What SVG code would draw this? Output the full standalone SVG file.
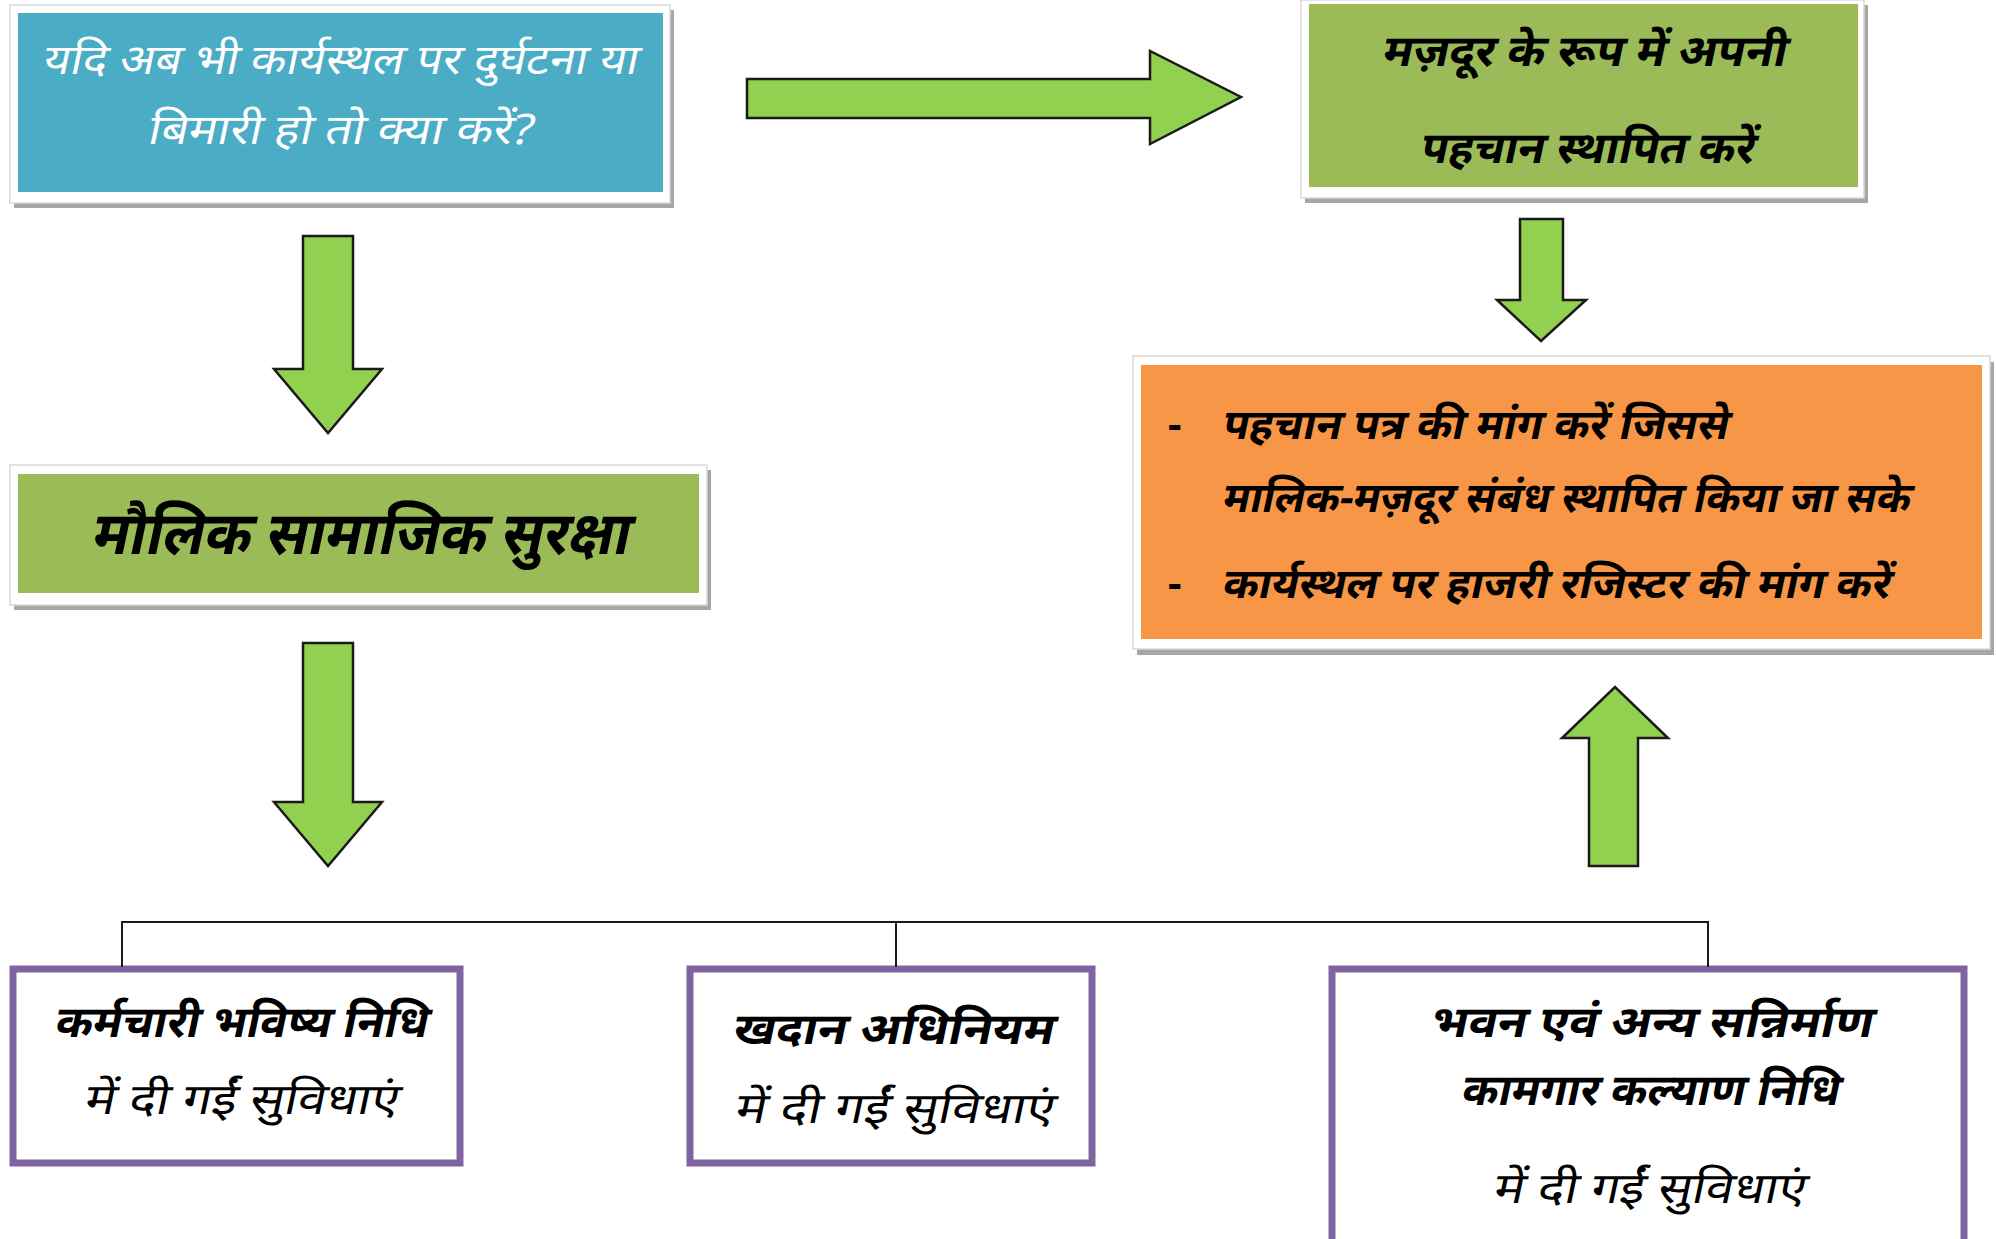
<svg xmlns="http://www.w3.org/2000/svg" width="1996" height="1239" viewBox="0 0 1996 1239">
<style>
.frame{fill:#ffffff;stroke:#d9d9d9;stroke-width:1.5}
.shadow{fill:#a6a6a6}
.arrow{fill:#92d050;stroke:#1a1a1a;stroke-width:2.5;stroke-linejoin:miter}
.conn{fill:none;stroke:#1a1a1a;stroke-width:2}
.pbox{fill:#ffffff;stroke:#8064a2;stroke-width:7}
text{font-family:"Noto Sans","Lato",sans-serif;text-anchor:middle}
.w{fill:#ffffff;font-size:42px}
.k{fill:#000000;font-size:44px;font-weight:bold}
.kl{fill:#000000;font-size:43px}
.o{fill:#000000;font-size:42px;font-weight:bold;text-anchor:start}
</style>
<rect width="1996" height="1239" fill="#ffffff"/>

<g id="node-question">
<rect class="shadow" x="14" y="10" width="660" height="198"/>
<rect class="frame" x="10" y="5" width="660" height="198"/>
<rect x="18" y="13" width="645" height="179" fill="#4bacc6"/>
<text class="w" transform="translate(339 74) skewX(-12)" textLength="595" lengthAdjust="spacingAndGlyphs">यदि अब भी कार्यस्थल पर दुर्घटना या</text>
<text class="w" transform="translate(339 144) skewX(-12)" textLength="385" lengthAdjust="spacingAndGlyphs">बिमारी हो तो क्या करें?</text>
</g>

<g id="node-identity">
<rect class="shadow" x="1305" y="5" width="563" height="198"/>
<rect class="frame" x="1301" y="0" width="563" height="198"/>
<rect x="1309" y="4" width="549" height="183" fill="#9bbb59"/>
<text class="k" transform="translate(1583 66) skewX(-12)" textLength="404" lengthAdjust="spacingAndGlyphs">मज़दूर के रूप में अपनी</text>
<text class="k" transform="translate(1586 163) skewX(-12)" textLength="334" lengthAdjust="spacingAndGlyphs">पहचान स्थापित करें</text>
</g>

<g id="node-demands">
<rect class="shadow" x="1137" y="362" width="857" height="293"/>
<rect class="frame" x="1133" y="356" width="857" height="293"/>
<rect x="1141" y="365" width="841" height="274" fill="#f79646"/>
<text class="o" x="1168" y="439">-</text>
<text class="o" transform="translate(1221 439) skewX(-12)" textLength="506" lengthAdjust="spacingAndGlyphs">पहचान पत्र की मांग करें जिससे</text>
<text class="o" transform="translate(1221 512) skewX(-12)" textLength="688" lengthAdjust="spacingAndGlyphs">मालिक-मज़दूर संबंध स्थापित किया जा सके</text>
<text class="o" x="1168" y="598">-</text>
<text class="o" transform="translate(1221 598) skewX(-12)" textLength="668" lengthAdjust="spacingAndGlyphs">कार्यस्थल पर हाजरी रजिस्टर की मांग करें</text>
</g>

<g id="node-social-security">
<rect class="shadow" x="14" y="470" width="697" height="140"/>
<rect class="frame" x="10" y="465" width="697" height="140"/>
<rect x="18" y="474" width="681" height="119" fill="#9bbb59"/>
<text class="k" transform="translate(359 554) skewX(-12)" style="font-size:60px" textLength="538" lengthAdjust="spacingAndGlyphs">मौलिक सामाजिक सुरक्षा</text>
</g>

<g id="node-epf">
<rect class="pbox" x="13" y="969" width="447" height="194"/>
<text class="k" transform="translate(240 1037) skewX(-12)" textLength="373" lengthAdjust="spacingAndGlyphs">कर्मचारी भविष्य निधि</text>
<text class="kl" transform="translate(240 1114) skewX(-12)" textLength="314" lengthAdjust="spacingAndGlyphs">में दी गईं सुविधाएं</text>
</g>

<g id="node-mines">
<rect class="pbox" x="690" y="969" width="402" height="194"/>
<text class="k" transform="translate(892 1044) skewX(-12)" textLength="321" lengthAdjust="spacingAndGlyphs">खदान अधिनियम</text>
<text class="kl" transform="translate(893 1123) skewX(-12)" textLength="319" lengthAdjust="spacingAndGlyphs">में दी गईं सुविधाएं</text>
</g>

<g id="node-construction">
<rect class="pbox" x="1332" y="969" width="632" height="280"/>
<text class="k" transform="translate(1650 1037) skewX(-12)" textLength="443" lengthAdjust="spacingAndGlyphs">भवन एवं अन्य सन्निर्माण</text>
<text class="k" transform="translate(1649 1105) skewX(-12)" textLength="378" lengthAdjust="spacingAndGlyphs">कामगार कल्याण निधि</text>
<text class="kl" transform="translate(1648 1203) skewX(-12)" textLength="312" lengthAdjust="spacingAndGlyphs">में दी गईं सुविधाएं</text>
</g>

<g id="connectors">
<polygon class="arrow" points="747,79 1150,79 1150,51 1241,97 1150,144 1150,118 747,118"/>
<polygon class="arrow" points="1520,219 1563,219 1563,300 1586,300 1541,341 1497,300 1520,300"/>
<polygon class="arrow" points="1589,866 1638,866 1638,738 1668,738 1615,687 1562,738 1589,738"/>
<polygon class="arrow" points="303,236 353,236 353,369 382,369 328,433 274,369 303,369"/>
<polygon class="arrow" points="303,643 353,643 353,802 382,802 328,866 274,802 303,802"/>
<polyline class="conn" points="122,967 122,922 1708,922 1708,967"/>
<line class="conn" x1="896" y1="922" x2="896" y2="967"/>
</g>
</svg>
